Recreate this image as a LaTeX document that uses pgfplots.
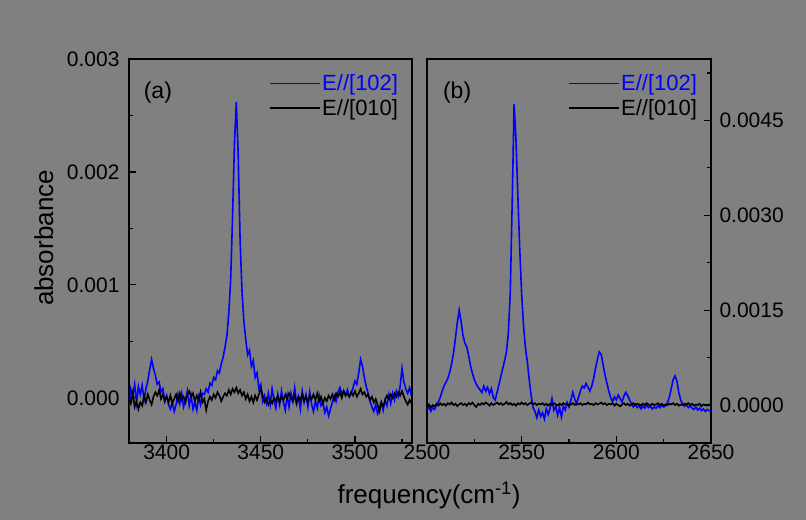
\documentclass[border=0pt]{standalone}
\usepackage{pgfplots}
\pgfplotsset{compat=1.18}
\usepackage{pgfplotstable}
\usepackage{fontspec}
\setmainfont{Liberation Sans}
\definecolor{bg}{RGB}{128,128,128}
\definecolor{myblue}{RGB}{0,0,255}

% Panel (a): E//[102]
\pgfplotstableread{
x y
3380 -0.00010
3381 0.00008
3382 0.00002
3383 0.00012
3384 -0.00004
3385 0.00010
3386 0.00003
3387 0.00011
3388 -0.00002
3389 0.00008
3390 0.00015
3391 0.00025
3392 0.00034
3393 0.00026
3394 0.00020
3395 0.00012
3396 0.00014
3397 0.00005
3398 0.00008
3399 -0.00003
3400 0.00002
3401 -0.00006
3402 -0.00010
3403 -0.00004
3404 -0.00012
3405 -0.00006
3406 0.00003
3407 -0.00005
3408 0.00004
3409 -0.00008
3410 -0.00002
3411 0.00006
3412 -0.00007
3413 0.00002
3414 -0.00010
3415 -0.00004
3416 -0.00011
3417 0.00001
3418 -0.00006
3419 0.00004
3420 0.00003
3421 0.00008
3422 0.00005
3423 0.00013
3424 0.00011
3425 0.00018
3426 0.00016
3427 0.00024
3428 0.00022
3429 0.00030
3430 0.00036
3431 0.00045
3432 0.00055
3433 0.00075
3434 0.00105
3435 0.00160
3436 0.00225
3437 0.00262
3438 0.00215
3439 0.00140
3440 0.00095
3441 0.00068
3442 0.00052
3443 0.00038
3444 0.00042
3445 0.00028
3446 0.00033
3447 0.00018
3448 0.00022
3449 0.00008
3450 0.00012
3451 -0.00003
3452 0.00002
3453 -0.00005
3454 0.00004
3455 -0.00006
3456 0.00008
3457 -0.00002
3458 -0.00009
3459 0.00003
3460 -0.00006
3461 0.00006
3462 -0.00004
3463 -0.00011
3464 0.00002
3465 -0.00008
3466 0.00004
3467 -0.00003
3468 0.00009
3469 -0.00005
3470 0.00001
3471 -0.00010
3472 0.00006
3473 -0.00004
3474 0.00003
3475 -0.00008
3476 0.00005
3477 -0.00006
3478 -0.00012
3479 -0.00003
3480 -0.00009
3481 0.00002
3482 -0.00007
3483 -0.00004
3484 -0.00013
3485 -0.00008
3486 -0.00016
3487 -0.00010
3488 -0.00004
3489 0.00002
3490 -0.00003
3491 0.00005
3492 0.00009
3493 0.00004
3494 0.00006
3495 0.00002
3496 0.00007
3497 0.00001
3498 0.00004
3499 0.00009
3500 0.00015
3501 0.00012
3502 0.00022
3503 0.00034
3504 0.00028
3505 0.00018
3506 0.00010
3507 0.00004
3508 -0.00003
3509 -0.00008
3510 -0.00012
3511 -0.00006
3512 -0.00014
3513 -0.00009
3514 -0.00004
3515 -0.00011
3516 -0.00002
3517 -0.00007
3518 0.00003
3519 -0.00005
3520 0.00004
3521 -0.00002
3522 0.00006
3523 0.00001
3524 0.00010
3525 0.00026
3526 0.00014
3527 0.00008
3528 0.00004
3529 0.00009
3530 0.00002
}\blueA

% Panel (a): E//[010]
\pgfplotstableread{
x y
3380 0.00000
3381 -0.00005
3382 0.00004
3383 -0.00008
3384 -0.00003
3385 -0.00010
3386 -0.00004
3387 -0.00007
3388 0.00002
3389 -0.00004
3390 0.00003
3391 -0.00002
3392 -0.00006
3393 0.00001
3394 0.00005
3395 0.00002
3396 0.00007
3397 -0.00001
3398 0.00003
3399 -0.00003
3400 0.00001
3401 -0.00004
3402 0.00002
3403 -0.00005
3404 -0.00001
3405 0.00003
3406 -0.00003
3407 0.00004
3408 -0.00002
3409 0.00001
3410 -0.00004
3411 0.00003
3412 0.00006
3413 0.00001
3414 0.00004
3415 -0.00003
3416 0.00002
3417 -0.00002
3418 0.00005
3419 -0.00004
3420 -0.00001
3421 -0.00011
3422 -0.00003
3423 0.00001
3424 -0.00002
3425 0.00003
3426 0.00000
3427 0.00005
3428 0.00002
3429 -0.00003
3430 0.00001
3431 0.00004
3432 0.00002
3433 0.00007
3434 0.00003
3435 0.00008
3436 0.00005
3437 0.00009
3438 0.00004
3439 0.00007
3440 0.00002
3441 0.00005
3442 -0.00001
3443 0.00003
3444 -0.00003
3445 0.00001
3446 -0.00004
3447 0.00002
3448 -0.00002
3449 0.00003
3450 0.00008
3451 0.00002
3452 -0.00004
3453 -0.00001
3454 -0.00006
3455 -0.00002
3456 -0.00005
3457 0.00000
3458 -0.00003
3459 0.00002
3460 -0.00004
3461 0.00001
3462 -0.00002
3463 0.00003
3464 -0.00001
3465 0.00004
3466 0.00000
3467 -0.00003
3468 0.00002
3469 -0.00005
3470 0.00001
3471 -0.00002
3472 0.00003
3473 -0.00003
3474 0.00001
3475 -0.00004
3476 0.00002
3477 -0.00001
3478 0.00003
3479 -0.00002
3480 0.00004
3481 -0.00003
3482 0.00001
3483 -0.00005
3484 0.00000
3485 -0.00003
3486 0.00002
3487 -0.00001
3488 0.00003
3489 -0.00002
3490 0.00004
3491 0.00001
3492 0.00005
3493 0.00000
3494 0.00006
3495 0.00002
3496 0.00004
3497 0.00001
3498 0.00005
3499 0.00002
3500 0.00006
3501 0.00001
3502 0.00004
3503 0.00008
3504 0.00003
3505 0.00005
3506 0.00001
3507 0.00003
3508 -0.00002
3509 0.00001
3510 -0.00004
3511 -0.00001
3512 -0.00006
3513 -0.00012
3514 -0.00004
3515 -0.00008
3516 -0.00002
3517 0.00002
3518 -0.00001
3519 0.00003
3520 0.00000
3521 0.00004
3522 0.00001
3523 0.00005
3524 0.00002
3525 0.00006
3526 0.00001
3527 -0.00003
3528 -0.00006
3529 -0.00002
3530 -0.00005
}\blackA

% Panel (b): E//[102]
\pgfplotstableread{
x y
2500 -0.00008
2501 -0.00003
2502 -0.00010
2503 -0.00004
2504 -0.00007
2505 0.00000
2506 0.00005
2507 0.00012
2508 0.00022
2509 0.00030
2510 0.00036
2511 0.00042
2512 0.00052
2513 0.00065
2514 0.00082
2515 0.00105
2516 0.00130
2517 0.00150
2518 0.00132
2519 0.00110
2520 0.00098
2521 0.00092
2522 0.00078
2523 0.00062
2524 0.00050
2525 0.00040
2526 0.00033
2527 0.00028
2528 0.00024
2529 0.00020
2530 0.00030
2531 0.00022
2532 0.00028
2533 0.00018
2534 0.00026
2535 0.00012
2536 0.00008
2537 0.00020
2538 0.00032
2539 0.00045
2540 0.00058
2541 0.00070
2542 0.00085
2543 0.00115
2544 0.00180
2545 0.00320
2546 0.00476
2547 0.00420
2548 0.00330
2549 0.00245
2550 0.00175
2551 0.00125
2552 0.00090
2553 0.00068
2554 0.00040
2555 0.00015
2556 -0.00004
2557 -0.00010
2558 -0.00020
2559 -0.00008
2560 -0.00018
2561 -0.00012
2562 -0.00022
2563 -0.00006
2564 -0.00015
2565 -0.00005
2566 0.00010
2567 -0.00008
2568 -0.00002
2569 -0.00016
2570 -0.00004
2571 -0.00019
2572 -0.00002
2573 -0.00008
2574 0.00004
2575 -0.00003
2576 0.00008
2577 0.00020
2578 0.00010
2579 0.00002
2580 0.00012
2581 0.00022
2582 0.00030
2583 0.00027
2584 0.00034
2585 0.00028
2586 0.00022
2587 0.00030
2588 0.00042
2589 0.00058
2590 0.00072
2591 0.00084
2592 0.00080
2593 0.00064
2594 0.00048
2595 0.00035
2596 0.00022
2597 0.00012
2598 0.00005
2599 0.00013
2600 0.00008
2601 0.00016
2602 0.00010
2603 0.00005
2604 0.00014
2605 0.00020
2606 0.00015
2607 0.00008
2608 0.00002
2609 -0.00003
2610 0.00001
2611 -0.00004
2612 -0.00001
2613 -0.00006
2614 -0.00002
2615 -0.00005
2616 0.00000
2617 -0.00004
2618 -0.00002
2619 -0.00006
2620 -0.00003
2621 -0.00005
2622 -0.00001
2623 -0.00004
2624 0.00000
2625 -0.00003
2626 -0.00001
2627 0.00004
2628 0.00012
2629 0.00026
2630 0.00040
2631 0.00046
2632 0.00038
2633 0.00020
2634 0.00008
2635 0.00002
2636 -0.00002
2637 0.00001
2638 -0.00004
2639 -0.00001
2640 -0.00005
2641 -0.00007
2642 -0.00003
2643 -0.00008
2644 -0.00005
2645 -0.00009
2646 -0.00006
2647 -0.00010
2648 -0.00007
2649 -0.00009
2650 -0.00008
}\blueB

% Panel (b): E//[010]
\pgfplotstableread{
x y
2500 -0.00003
2501 0.00001
2502 -0.00004
2503 0.00000
2504 -0.00002
2505 0.00002
2506 -0.00001
2507 0.00003
2508 0.00000
2509 0.00002
2510 -0.00001
2511 0.00003
2512 0.00001
2513 0.00004
2514 0.00000
2515 0.00002
2516 -0.00002
2517 0.00001
2518 0.00003
2519 0.00000
2520 0.00002
2521 -0.00001
2522 0.00003
2523 0.00001
2524 0.00004
2525 0.00000
2526 -0.00003
2527 0.00002
2528 0.00000
2529 0.00003
2530 0.00001
2531 0.00004
2532 0.00002
2533 -0.00001
2534 0.00003
2535 0.00000
2536 0.00002
2537 0.00004
2538 0.00001
2539 0.00003
2540 0.00000
2541 0.00002
2542 0.00005
2543 0.00001
2544 0.00003
2545 0.00000
2546 0.00002
2547 -0.00001
2548 0.00003
2549 0.00001
2550 0.00004
2551 0.00001
2552 0.00003
2553 0.00000
2554 0.00002
2555 0.00004
2556 0.00001
2557 0.00003
2558 0.00000
2559 0.00002
2560 0.00001
2561 0.00003
2562 0.00000
2563 0.00002
2564 -0.00001
2565 0.00002
2566 0.00000
2567 0.00003
2568 0.00001
2569 -0.00001
2570 0.00002
2571 0.00000
2572 0.00003
2573 0.00001
2574 0.00002
2575 -0.00001
2576 0.00001
2577 0.00003
2578 0.00000
2579 0.00002
2580 0.00001
2581 0.00003
2582 0.00000
2583 0.00002
2584 0.00001
2585 0.00004
2586 0.00001
2587 0.00002
2588 0.00000
2589 0.00003
2590 0.00001
2591 0.00002
2592 0.00004
2593 0.00001
2594 0.00003
2595 0.00000
2596 0.00002
2597 0.00001
2598 0.00003
2599 -0.00001
2600 0.00002
2601 0.00000
2602 -0.00002
2603 0.00001
2604 0.00003
2605 0.00000
2606 0.00002
2607 -0.00001
2608 0.00001
2609 0.00003
2610 0.00000
2611 0.00002
2612 0.00001
2613 -0.00001
2614 0.00002
2615 0.00000
2616 0.00003
2617 0.00001
2618 -0.00001
2619 0.00002
2620 0.00000
2621 0.00001
2622 0.00003
2623 0.00000
2624 0.00002
2625 -0.00001
2626 0.00001
2627 0.00000
2628 0.00002
2629 0.00001
2630 0.00003
2631 0.00000
2632 0.00002
2633 -0.00001
2634 0.00001
2635 0.00000
2636 0.00002
2637 0.00001
2638 0.00003
2639 0.00000
2640 0.00002
2641 -0.00001
2642 0.00001
2643 0.00000
2644 0.00002
2645 -0.00002
2646 0.00001
2647 0.00000
2648 -0.00001
2649 0.00001
2650 -0.00001
}\blackB

\pgfplotsset{
  panel/.style={
    scale only axis, height=384bp, anchor=south west,
    axis background/.style={fill=bg},
    axis line style={line width=1.4bp, black},
    every tick/.style={line width=1.2bp, black},
    major tick length=7bp, minor tick length=4bp,
    tick align=inside,
    tick label style={font=\fontsize{21bp}{24bp}\selectfont, black},
    xticklabel style={yshift=2bp},
    /pgf/number format/assume math mode=true,
    /pgf/number format/1000 sep={},
    scaled y ticks=false,
    xtick pos=left,
    legend style={draw=none, fill=none, anchor=north east,
      font=\fontsize{22bp}{25bp}\selectfont,
      inner xsep=0pt, inner ysep=0pt, row sep=5bp,
      nodes={inner sep=1bp},
      cells={anchor=west}},
    legend image code/.code={\draw[##1, line width=1.6bp] (0bp,0bp) -- (50bp,0bp);},
    every axis plot/.append style={line width=1.6bp},
  },
}

\begin{document}
\begin{tikzpicture}
\fill[bg] (0bp,0bp) rectangle (806bp,520bp);

\begin{axis}[panel, at={(129bp,77bp)}, width=283bp,
  xmin=3380, xmax=3530.3, ymin=-0.0004, ymax=0.003,
  xtick={3400,3450,3500}, minor xtick={3425,3475,3525},
  ytick={0,0.001,0.002,0.003}, yticklabels={0.000,0.001,0.002,0.003},
  minor ytick={0.0005,0.0015,0.0025},
  ytick pos=left,
  yticklabel style={xshift=-6bp},
  legend style={at={(rel axis cs:0.955,0.962)}},
]
\addplot[myblue] table[x=x,y=y] {\blueA};
\addlegendentry{\textcolor{myblue}{E//[102]}}
\addplot[black] table[x=x,y=y] {\blackA};
\addlegendentry{E//[010]}
\node[font=\fontsize{23bp}{26bp}\selectfont] at (rel axis cs:0.102,0.912) {(a)};
\end{axis}

\begin{axis}[panel, at={(427bp,77bp)}, width=284bp,
  xmin=2500, xmax=2650, ymin=-0.0006, ymax=0.00547,
  xtick={2500,2550,2600,2650}, minor xtick={2525,2575,2625},
  ytick={0,0.0015,0.003,0.0045}, yticklabels={0.0000,0.0015,0.0030,0.0045},
  minor ytick={0.00075,0.00225,0.00375,0.00525},
  ytick pos=right, yticklabel pos=right,
  yticklabel style={xshift=5bp},
  legend style={at={(rel axis cs:0.955,0.962)}},
]
\addplot[myblue] table[x=x,y=y] {\blueB};
\addlegendentry{\textcolor{myblue}{E//[102]}}
\addplot[black] table[x=x,y=y] {\blackB};
\addlegendentry{E//[010]}
\node[font=\fontsize{23bp}{26bp}\selectfont] at (rel axis cs:0.106,0.912) {(b)};
\end{axis}

\node[anchor=base, font=\fontsize{26bp}{30bp}\selectfont] at (429bp,17bp) {frequency(cm\textsuperscript{-1})};
\node[anchor=base, rotate=90, font=\fontsize{26bp}{30bp}\selectfont] at (53bp,282bp) {absorbance};
\end{tikzpicture}
\end{document}
